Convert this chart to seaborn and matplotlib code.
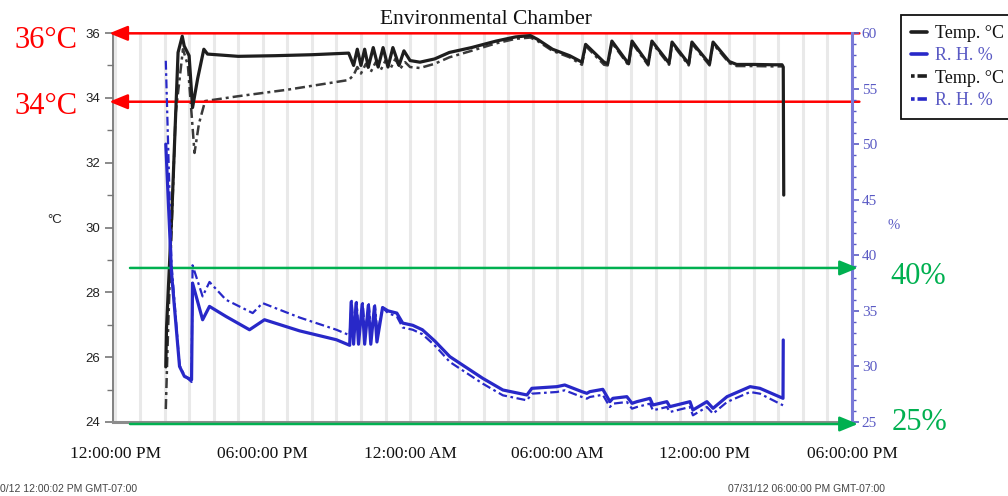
import matplotlib
matplotlib.use("Agg")
import matplotlib.pyplot as plt
import matplotlib.transforms as mtransforms
from matplotlib.lines import Line2D
import seaborn as sns
import pandas as pd

# ---------------- data (hours after 12:00 PM) ----------------
temp1_t = [2.05, 2.08, 2.30, 2.55, 2.72, 2.80, 3.00, 3.14, 3.35, 3.60, 3.75, 5.0, 6.5, 8.0, 9.5,
           9.7, 9.85, 10.0, 10.15, 10.3, 10.5, 10.7, 10.9, 11.1, 11.3, 11.55, 11.75, 12.0, 12.4,
           13.0, 13.6, 14.5, 15.5, 16.3, 16.9, 17.2, 17.8, 18.5, 19.0, 19.15, 19.9, 20.05, 20.22,
           20.9, 21.04, 21.7, 21.85, 22.55, 22.67, 23.35, 23.48, 24.2, 24.34, 25.0, 25.3, 26.0,
           26.8, 27.15, 27.2, 27.22]
temp1_v = [25.7, 26.9, 30.5, 35.4, 35.9, 35.6, 35.3, 33.7, 34.6, 35.5, 35.35, 35.28, 35.3, 35.33, 35.38,
           35.0, 35.5, 35.0, 35.5, 34.95, 35.55, 34.95, 35.55, 34.95, 35.55, 35.0, 35.45, 35.15, 35.1,
           35.2, 35.4, 35.55, 35.75, 35.88, 35.92, 35.8, 35.5, 35.3, 35.1, 35.65, 35.1, 35.05, 35.75,
           35.05, 35.75, 35.05, 35.75, 35.07, 35.72, 35.05, 35.72, 35.05, 35.72, 35.12, 35.03, 35.03,
           35.02, 35.02, 34.95, 31.0]

temp2_t = [2.05, 2.15, 2.45, 2.75, 2.95, 3.22, 3.40, 3.65, 5.0, 7.0, 9.5, 9.7, 9.85, 10.0, 10.2,
           10.4, 10.6, 10.8, 11.0, 11.2, 11.4, 11.6, 11.8, 12.0, 12.4, 13.0, 13.6, 14.5, 15.5, 16.3,
           16.9, 17.2, 17.8, 18.5, 19.0, 19.15, 19.9, 20.05, 20.22, 20.9, 21.04, 21.7, 21.85, 22.55,
           22.67, 23.35, 23.48, 24.2, 24.34, 25.0, 25.3, 26.0, 26.8, 27.15]
temp2_v = [24.4, 27.0, 33.5, 35.5, 35.0, 32.3, 33.2, 33.9, 34.05, 34.25, 34.55, 34.7, 34.95, 34.75, 35.05,
           34.8, 35.1, 34.85, 35.15, 34.9, 35.2, 34.9, 35.1, 34.95, 34.92, 35.05, 35.25, 35.45, 35.68, 35.82,
           35.86, 35.75, 35.45, 35.25, 35.02, 35.6, 35.02, 35.0, 35.7, 35.0, 35.7, 35.0, 35.7, 35.02,
           35.67, 35.0, 35.67, 35.0, 35.67, 35.07, 34.98, 34.98, 34.97, 34.97]

rh1_t = [2.05, 2.28, 2.61, 2.81, 3.10, 3.14, 3.55, 3.83, 4.50, 5.46, 6.07, 7.50, 9.00, 9.54,
         9.60, 9.70, 9.80, 9.90, 10.05, 10.15, 10.30, 10.40, 10.55, 10.65, 10.88, 11.10, 11.46,
         11.70, 12.11, 12.50, 13.00, 13.62, 14.96, 15.78, 16.76, 16.96, 17.98, 18.30, 19.00, 19.20,
         19.32, 19.85, 20.14, 20.26, 20.83, 21.04, 21.24, 21.77, 21.89, 22.46, 22.58, 23.40, 23.52,
         24.09, 24.34, 24.91, 25.85, 26.25, 27.19, 27.20]
rh1_v = [50.0, 38.5, 30.0, 29.1, 28.8, 37.5, 34.2, 35.4, 34.5, 33.3, 34.2, 33.2, 32.4, 31.9,
         35.8, 32.0, 35.7, 32.0, 35.6, 32.0, 35.5, 32.0, 35.4, 32.2, 35.3, 35.0, 34.8,
         33.9, 33.7, 33.3, 32.3, 30.88, 28.93, 27.88, 27.43, 28.03, 28.18, 28.33, 27.73, 27.58,
         27.73, 27.94, 26.83, 27.13, 27.28, 26.68, 26.83, 27.13, 26.53, 26.83, 26.38, 26.83, 26.08,
         26.83, 26.23, 27.28, 28.18, 28.03, 27.13, 32.38]

rh2_t = [2.05, 2.28, 2.61, 2.81, 3.10, 3.14, 3.55, 3.83, 4.50, 5.59, 5.99, 7.50, 9.00, 9.54,
         9.62, 9.72, 9.82, 9.92, 10.07, 10.17, 10.32, 10.42, 10.57, 10.67, 10.88, 11.10, 11.46,
         11.70, 12.11, 12.50, 13.00, 13.62, 14.96, 15.78, 16.76, 16.96, 17.98, 18.30, 19.00, 19.20,
         19.32, 19.85, 20.14, 20.26, 20.83, 21.04, 21.24, 21.77, 21.89, 22.46, 22.58, 23.40, 23.52,
         24.09, 24.34, 24.91, 25.85, 26.25, 27.19]
rh2_v = [57.5, 39.3, 30.1, 29.2, 28.6, 39.1, 36.3, 37.6, 36.0, 34.8, 35.7, 34.4, 33.3, 32.8,
         35.9, 32.9, 35.8, 32.9, 35.7, 32.9, 35.6, 32.9, 35.5, 33.0, 35.3, 34.8, 34.5,
         33.5, 33.3, 32.9, 31.9, 30.4, 28.45, 27.4, 26.95, 27.55, 27.7, 27.85, 27.25, 27.1,
         27.25, 27.45, 26.35, 26.65, 26.8, 26.2, 26.35, 26.65, 26.05, 26.35, 25.9, 26.35, 25.6,
         26.35, 25.75, 26.8, 27.7, 27.55, 26.5]

tick_hours = [0, 6, 12, 18, 24, 30]
tick_labels = ["12:00:00 PM", "06:00:00 PM", "12:00:00 AM", "06:00:00 AM", "12:00:00 PM", "06:00:00 PM"]

# ---------------- styling ----------------
sns.set_style("white")
plt.rcParams['font.family'] = ['Liberation Sans', 'DejaVu Sans']

BLACK = "#1e1e1e"
BLUE = "#2828c8"
RBLUE = "#5a5ac4"
SERIF = ['Liberation Serif', 'DejaVu Serif']

fig = plt.figure(figsize=(10.08, 4.96), dpi=100)
L, R, T, B = 113, 852, 33, 422
ax = fig.add_axes([L / 1008, 1 - B / 496, (R - L) / 1008, (B - T) / 496])
ax2 = ax.twinx()

dash = (0, (4, 1.6, 1.2, 1.6))

d1 = pd.DataFrame({"t": temp1_t, "v": temp1_v})
d2 = pd.DataFrame({"t": temp2_t, "v": temp2_v})
h1 = pd.DataFrame({"t": rh1_t, "v": rh1_v})
h2 = pd.DataFrame({"t": rh2_t, "v": rh2_v})

sns.lineplot(data=d2, x="t", y="v", ax=ax, sort=False, estimator=None, color="#3a3a3a",
             lw=1.8, linestyle=dash, zorder=3)
sns.lineplot(data=d1, x="t", y="v", ax=ax, sort=False, estimator=None, color=BLACK, lw=2.3, zorder=4)
sns.lineplot(data=h2, x="t", y="v", ax=ax2, sort=False, estimator=None, color=BLUE,
             lw=1.6, linestyle=dash, zorder=3)
sns.lineplot(data=h1, x="t", y="v", ax=ax2, sort=False, estimator=None, color=BLUE, lw=2.3, zorder=4)

ax.set_xlim(-0.1, 30)
ax.set_ylim(24, 36)
ax2.set_ylim(25, 60)

ax.set_xticks(tick_hours)
ax.set_xticklabels(tick_labels, fontfamily=SERIF, fontsize=12.5, color="#111")
ax.set_xticks(range(0, 31), minor=True)
ax.grid(True, which="both", axis="x", color="#e9e9e9", lw=2.2)
ax.grid(False, axis="y")
ax2.grid(False)
ax.tick_params(axis="x", which="major", length=10, width=1.3, color="#666", pad=7, direction="out")
ax.tick_params(axis="x", which="minor", length=5, width=1, color="#999", direction="out")

ax.set_yticks([24, 26, 28, 30, 32, 34, 36])
ax.set_yticks(range(24, 37), minor=True)
ax.tick_params(axis="y", which="major", length=6, width=1.2, color="#777", labelsize=9.5,
               labelcolor="#222", pad=3, left=True)
ax.tick_params(axis="y", which="minor", length=4, width=1, color="#777", left=True)

ax2.set_yticks(range(25, 61, 5))
ax2.set_yticks(range(25, 61), minor=True)
ax2.tick_params(axis="y", which="major", length=5, width=1.2, color=RBLUE, labelsize=11,
                labelcolor=RBLUE, pad=2, right=True)
ax2.tick_params(axis="y", which="minor", length=3, width=1, color=RBLUE, right=True)
for lab in ax2.get_yticklabels():
    lab.set_fontfamily(SERIF)

ax.set_xlabel("")
ax.set_ylabel("")
ax2.set_ylabel("")
for a in (ax, ax2):
    a.spines["top"].set_visible(False)
ax.spines["left"].set_color("#777")
ax.spines["left"].set_linewidth(1.3)
ax.spines["bottom"].set_color("#8c8c8c")
ax.spines["bottom"].set_linewidth(2.2)
ax.spines["right"].set_visible(False)
ax2.spines["left"].set_visible(False)
ax2.spines["bottom"].set_visible(False)
ax2.spines["right"].set_color("#7a7ad8")
ax2.spines["right"].set_linewidth(2.2)

# axis unit labels
fig.text(55 / 1008, 1 - 220 / 496, "°C", fontsize=9.5, color="#222", ha="center", va="center")
fig.text(894 / 1008, 1 - 226 / 496, "%", fontsize=10.5, color=RBLUE, ha="center", va="center",
         fontfamily=SERIF)

# title
fig.text(486 / 1008, 1 - 20 / 496, "Environmental Chamber", fontsize=15.5, fontfamily=SERIF,
         ha="center", va="center", color="#111")

# legend
dd = (0, (1.0, 0.8, 2.6, 0.8))
handles = [Line2D([], [], color=BLACK, lw=2.6),
           Line2D([], [], color=BLUE, lw=2.6),
           Line2D([], [], color=BLACK, lw=2.6, linestyle=dd),
           Line2D([], [], color=BLUE, lw=2.6, linestyle=dd)]
labels = ["Temp. °C", "R. H. %", "Temp. °C", "R. H. %"]
leg = fig.legend(handles, labels, loc="upper left", bbox_to_anchor=(901 / 1008, 1 - 15 / 496),
                 frameon=True, fancybox=False, edgecolor="#111", framealpha=1,
                 prop={"family": SERIF, "size": 13}, handlelength=0.9, handletextpad=0.45,
                 labelspacing=0.3, borderpad=0.55, borderaxespad=0)
leg.get_frame().set_linewidth(1.3)
for txt, c in zip(leg.get_texts(), ["#111", RBLUE, "#111", RBLUE]):
    txt.set_color(c)

# footers
fig.text(0.0, 1 - 489 / 496, "0/12 12:00:02 PM GMT-07:00", fontsize=7.5, color="#444",
         ha="left", va="center")
fig.text(885 / 1008, 1 - 489 / 496, "07/31/12 06:00:00 PM GMT-07:00", fontsize=7.5, color="#444",
         ha="right", va="center")

# annotations
RED = "#ff0000"
GREEN = "#00b050"
blend1 = mtransforms.blended_transform_factory(ax.transAxes, ax.transData)
blend2 = mtransforms.blended_transform_factory(ax2.transAxes, ax2.transData)
arrow_r = dict(arrowstyle="-|>,head_length=1.1,head_width=0.45", color=RED, lw=1.8,
               shrinkA=0, shrinkB=0)
arrow_g = dict(arrowstyle="-|>,head_length=1.1,head_width=0.45", color=GREEN, lw=1.8,
               shrinkA=0, shrinkB=0)
for yv in (35.99, 33.88):
    ax.annotate("", xy=(-0.005, yv), xycoords=blend1, xytext=(1.01, yv), textcoords=blend1,
                arrowprops=arrow_r, annotation_clip=False)
for yv in (38.86, 24.82):
    ax2.annotate("", xy=(1.008, yv), xycoords=blend2, xytext=(0.023, yv), textcoords=blend2,
                 arrowprops=arrow_g, annotation_clip=False)

fig.text(78 / 1008, 1 - 48 / 496, "36°C", fontsize=22, fontfamily=SERIF, color=RED,
         ha="right", va="baseline")
fig.text(78 / 1008, 1 - 114 / 496, "34°C", fontsize=22, fontfamily=SERIF, color=RED,
         ha="right", va="baseline")
fig.text(890 / 1008, 1 - 277 / 496, "40%", fontsize=22, fontfamily=SERIF, color=GREEN,
         ha="left", va="center")
fig.text(892 / 1008, 1 - 423 / 496, "25%", fontsize=22, fontfamily=SERIF, color=GREEN,
         ha="left", va="center")

fig.savefig("out.png", dpi=100)
